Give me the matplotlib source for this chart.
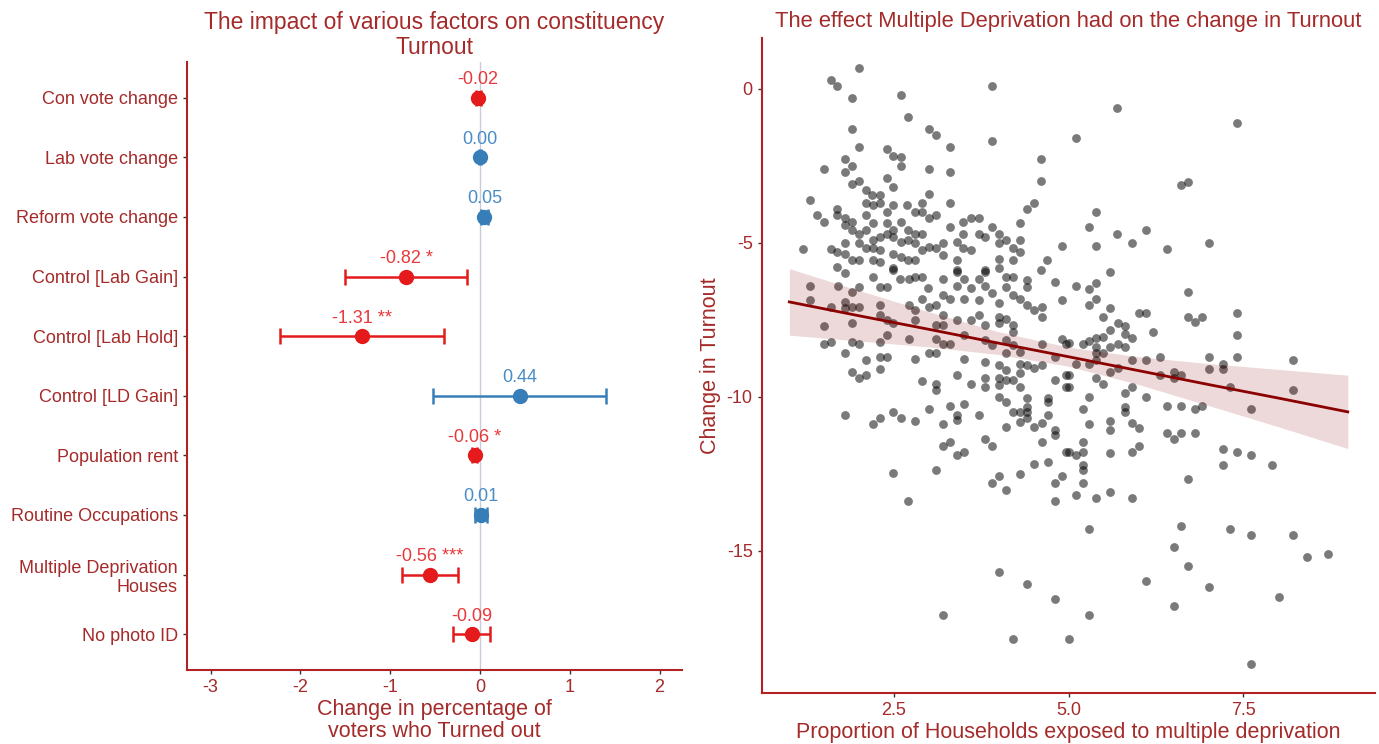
import numpy as np
import matplotlib.pyplot as plt

plt.rcParams['font.family'] = ['Liberation Sans', 'DejaVu Sans']
plt.rcParams['axes.unicode_minus'] = False

# regression coefficients for turnout change
factors = ["Con vote change", "Lab vote change", "Reform vote change",
           "Control [Lab Gain]", "Control [Lab Hold]", "Control [LD Gain]",
           "Population rent", "Routine Occupations",
           "Multiple Deprivation\nHouses", "No photo ID"]
estimates = [-0.02, 0.00, 0.05, -0.82, -1.31, 0.44, -0.06, 0.01, -0.56, -0.09]
ci_low = [-0.05, -0.01, 0.01, -1.50, -2.23, -0.52, -0.09, -0.06, -0.87, -0.30]
ci_high = [0.01, 0.01, 0.09, -0.14, -0.40, 1.40, -0.03, 0.08, -0.25, 0.11]
stars = ["", "", "", " *", " **", "", " *", "", " ***", ""]

# constituencies: deprivation share vs change in turnout
points = [
    (2.00, 0.69), (1.59, 0.30), (1.69, 0.10), (1.90, -0.31), (2.60, -0.20), (3.90, 0.10),
    (2.70, -0.91), (1.90, -1.31), (3.00, -1.31), (3.10, -1.50), (3.90, -1.70), (2.00, -1.90),
    (2.40, -1.94), (3.30, -1.90), (2.60, -2.21), (2.49, -2.19), (1.80, -2.29), (1.90, -2.50),
    (4.60, -2.29), (1.50, -2.60), (1.80, -2.70), (2.60, -2.50), (3.00, -2.60), (3.30, -2.70),
    (2.40, -2.90), (2.00, -2.99), (1.90, -3.10), (4.60, -2.99), (2.49, -3.20), (1.30, -3.60),
    (2.10, -3.30), (3.00, -3.40), (3.30, -3.70), (4.50, -3.70), (4.40, -3.91), (1.39, -4.10),
    (1.50, -4.31), (1.20, -5.20), (4.90, -5.10),
    (2.19, -3.45), (2.30, -3.45), (2.10, -3.70), (2.20, -3.78), (2.30, -3.72), (2.49, -3.78),
    (2.68, -3.78), (2.90, -3.70), (2.80, -4.00), (2.90, -4.00), (3.10, -4.10), (3.00, -4.21),
    (1.69, -3.91), (1.69, -4.10), (1.80, -4.21), (1.90, -4.32), (1.80, -4.43), (2.20, -4.37),
    (2.10, -4.10), (2.40, -4.00), (2.60, -4.32), (2.40, -4.37), (2.49, -4.59), (2.70, -4.59),
    (2.80, -4.70), (2.90, -4.70), (3.49, -4.32), (3.60, -4.21), (3.71, -4.21), (3.49, -4.70),
    (3.71, -4.70), (3.80, -4.80), (3.90, -4.48), (4.00, -4.70), (4.00, -5.02), (4.11, -4.91),
    (4.31, -4.37), (4.31, -4.91), (3.30, -4.50), (3.40, -4.97), (3.20, -5.02), (3.10, -5.18),
    (3.00, -5.13), (2.90, -5.24), (2.80, -5.02), (2.70, -4.91), (2.60, -4.97), (2.49, -4.80),
    (2.40, -4.70), (2.30, -4.80), (2.20, -4.91), (2.10, -4.59), (2.00, -4.70), (1.90, -4.59),
    (1.80, -5.02), (2.00, -5.02), (2.10, -5.18), (2.20, -5.18), (2.30, -5.24), (2.49, -5.35),
    (2.60, -5.46), (2.70, -5.56), (2.80, -5.56), (1.69, -5.78), (1.59, -5.20), (1.69, -5.29),
    (1.80, -5.35), (1.90, -5.56), (2.00, -5.56), (2.20, -5.56), (2.30, -5.62), (3.20, -5.40),
    (3.40, -5.56), (3.49, -5.18), (3.60, -5.24), (4.00, -5.51), (4.20, -5.18), (4.31, -5.29),
    (4.20, -5.56), (4.69, -5.56), (4.60, -5.89), (3.80, -5.89), (3.40, -5.89), (2.49, -5.83),
    (5.70, -0.62), (7.41, -1.10), (5.11, -1.61), (6.61, -3.11), (6.71, -3.01), (5.40, -4.00),
    (5.30, -4.50), (5.70, -4.70), (6.11, -4.60), (5.91, -5.00), (5.40, -5.10), (6.41, -5.21),
    (7.01, -5.00),
    (1.80, -5.99), (2.20, -6.10), (2.30, -6.43), (2.40, -6.43), (2.49, -5.89), (2.59, -6.16),
    (2.71, -6.16), (2.80, -6.10), (2.90, -6.10), (2.99, -6.48), (3.20, -6.16), (3.20, -6.70),
    (3.30, -6.81), (3.40, -5.96), (3.40, -6.40), (3.50, -6.16), (3.50, -6.81), (3.60, -6.48),
    (3.71, -6.16), (3.71, -6.86), (3.80, -5.96), (3.80, -6.40), (3.90, -6.64), (4.00, -5.83),
    (4.00, -6.97), (4.11, -6.10), (4.11, -6.43), (4.21, -6.10), (4.21, -6.70), (4.31, -6.81),
    (4.40, -6.21), (4.40, -6.43), (4.40, -7.02), (4.50, -7.19), (4.62, -7.08), (4.62, -7.40),
    (4.81, -6.27), (4.90, -6.86), (1.30, -6.40), (1.30, -6.86), (1.70, -6.40), (1.80, -6.91),
    (1.90, -6.59), (2.00, -6.43), (2.00, -7.08), (1.90, -7.08), (1.80, -7.13), (1.60, -7.08),
    (1.50, -7.69), (1.50, -8.30), (1.60, -8.21), (1.90, -7.59), (1.90, -8.21), (2.00, -8.30),
    (1.80, -8.59), (2.10, -8.79), (1.90, -9.19), (2.00, -9.40), (2.10, -9.30), (2.30, -7.02),
    (2.30, -7.35), (2.40, -7.51), (2.30, -8.21), (2.40, -8.00), (2.30, -8.70), (2.40, -8.70),
    (2.30, -9.10), (2.49, -7.62), (2.71, -7.02), (2.80, -7.19), (2.71, -8.11), (2.80, -7.51),
    (2.90, -6.81), (3.00, -7.08), (3.10, -7.02), (3.20, -7.35), (3.10, -7.67), (3.20, -7.67),
    (3.10, -8.11), (3.20, -8.27), (3.30, -8.29), (3.40, -7.51), (3.50, -8.00), (3.60, -7.51),
    (3.71, -7.35), (3.80, -7.67), (3.80, -8.16), (3.90, -8.32), (4.00, -7.40), (4.11, -7.46),
    (4.00, -7.62), (4.21, -7.89), (4.21, -7.67), (4.11, -8.16), (4.21, -8.32), (4.31, -8.54),
    (4.11, -8.59), (4.00, -8.97), (4.11, -9.13), (4.31, -8.92), (4.40, -8.97), (4.50, -9.08),
    (4.62, -8.97), (4.62, -8.30), (4.81, -8.70), (4.90, -8.11), (4.97, -8.27), (4.97, -9.30),
    (4.81, -9.46), (4.97, -9.67), (2.80, -8.78), (3.00, -8.59), (3.10, -8.59), (3.50, -8.78),
    (3.80, -8.88), (3.40, -9.30), (2.90, -9.49), (3.10, -9.60), (3.10, -9.78), (3.60, -9.57),
    (3.80, -9.40), (3.80, -9.67), (4.00, -9.40), (4.00, -9.62), (4.11, -9.46), (4.21, -9.46),
    (4.31, -9.24), (4.31, -9.67), (4.00, -10.00), (4.11, -10.18), (4.40, -10.05), (4.40, -10.32),
    (4.40, -10.49), (4.21, -10.49), (4.31, -10.49), (4.40, -10.70), (4.31, -10.81), (4.71, -10.05),
    (4.71, -10.16), (4.71, -10.59), (4.81, -11.08), (4.81, -11.24), (4.50, -10.99), (4.62, -10.86),
    (4.62, -11.48), (4.10, -10.99), (4.97, -11.78), (1.80, -10.59), (2.20, -10.90), (2.30, -10.70),
    (2.49, -10.49), (2.60, -10.70), (2.80, -10.79), (3.00, -10.40), (3.20, -10.90), (3.30, -10.29),
    (3.40, -10.59), (3.40, -10.76), (3.50, -10.22), (3.71, -10.59), (3.20, -11.59), (3.30, -11.46),
    (3.40, -11.89), (3.50, -11.78), (3.80, -11.37), (3.90, -11.59), (4.50, -12.19), (4.71, -12.11),
    (4.31, -12.51), (4.90, -12.56), (4.81, -12.81), (4.00, -12.56), (3.90, -12.81), (4.10, -13.03),
    (2.49, -12.49), (3.10, -12.38),
    (5.60, -5.96), (5.11, -6.40), (5.30, -6.50), (5.40, -6.29), (5.40, -6.81), (5.30, -7.02),
    (5.60, -7.11), (5.50, -7.40), (6.01, -7.29), (6.11, -7.29), (6.71, -6.59), (6.71, -7.40),
    (6.81, -7.56), (6.91, -7.40), (7.41, -7.29), (7.41, -8.00), (7.41, -8.70), (6.21, -7.89),
    (5.71, -7.59), (5.81, -7.69), (5.60, -7.83), (5.81, -7.97), (5.91, -8.08), (5.50, -8.05),
    (5.40, -8.08), (5.30, -8.19), (5.20, -8.30), (5.01, -8.24), (5.40, -8.38), (5.40, -8.59),
    (5.50, -8.59), (5.60, -8.38), (5.71, -8.30), (5.81, -8.38), (5.30, -8.92), (5.40, -8.81),
    (5.11, -8.95), (5.01, -9.30), (5.01, -9.67), (5.60, -9.19), (5.71, -9.08), (5.40, -9.40),
    (5.50, -9.57), (5.91, -8.81), (6.11, -8.81), (6.31, -8.70), (6.31, -9.30), (6.51, -9.21),
    (6.61, -9.30), (6.51, -9.40), (7.01, -8.70), (7.01, -9.10), (7.21, -8.92), (7.21, -9.10),
    (7.31, -9.67), (8.21, -8.81), (8.21, -9.78), (7.61, -10.40), (5.91, -9.67), (5.81, -9.89),
    (6.11, -10.00), (5.30, -10.00), (5.20, -10.40), (5.81, -10.32), (5.81, -10.49), (6.41, -10.29),
    (6.61, -10.29), (6.81, -10.40), (6.91, -10.29), (5.91, -10.86), (6.01, -11.00), (5.60, -10.79),
    (5.60, -11.08), (5.30, -10.90), (6.41, -11.19), (6.51, -11.37), (6.61, -11.19), (6.81, -11.19),
    (5.20, -11.48), (5.01, -11.78), (5.11, -11.89), (5.20, -11.78), (5.60, -11.84), (5.91, -11.78),
    (6.01, -11.59), (5.20, -12.22), (5.20, -12.38), (5.20, -12.81), (5.60, -13.08), (6.71, -12.67),
    (7.21, -11.68), (7.41, -11.78), (7.61, -11.89), (7.21, -12.20), (7.91, -12.20),
    (2.70, -13.39), (4.80, -13.39), (4.00, -15.68), (4.40, -16.09), (4.80, -16.58), (3.20, -17.09),
    (4.20, -17.88), (5.00, -17.88),
    (5.11, -13.19), (5.40, -13.30), (5.91, -13.30), (5.30, -14.30), (6.61, -14.19), (6.51, -14.89),
    (6.71, -15.50), (6.11, -15.98), (7.01, -16.19), (6.51, -16.78), (5.30, -17.09), (7.31, -14.30),
    (7.61, -14.49), (8.21, -14.49), (8.41, -15.19), (8.71, -15.09), (8.01, -16.49), (7.61, -18.68),
]
deprivation = np.array([p[0] for p in points])
turnout_change = np.array([p[1] for p in points])

# linear fit with 95% band
fit_x = [1.0, 2.0, 3.0, 4.0, 5.0, 6.0, 7.0, 8.0, 9.0]
fit_y = [-6.92, -7.37, -7.81, -8.26, -8.70, -9.15, -9.60, -10.04, -10.49]
band_hi = [-5.84, -6.55, -7.24, -7.89, -8.39, -8.70, -8.92, -9.11, -9.30]
band_lo = [-8.00, -8.19, -8.38, -8.63, -9.01, -9.60, -10.28, -10.97, -11.68]

TXT = '#A52A2A'
AXLINE = '#B22222'
RED = '#E41A1C'
BLUE = '#377EB8'

fig = plt.figure(figsize=(13.79, 7.44), dpi=100)
ax1 = fig.add_axes([0.1356, 0.0995, 0.3586, 0.8172])
ax2 = fig.add_axes([0.5524, 0.0681, 0.4447, 0.8808])

for ax in (ax1, ax2):
    for s in ('top', 'right'):
        ax.spines[s].set_visible(False)
    for s in ('left', 'bottom'):
        ax.spines[s].set_color(AXLINE)
        ax.spines[s].set_linewidth(1.5)
    ax.tick_params(colors='#333333', labelcolor=TXT, length=3, width=1, labelsize=13)

# coefficient plot
ax1.axvline(0, color='#C8CCD8', lw=1, zorder=0)
for i, (est, lo, hi, st) in enumerate(zip(estimates, ci_low, ci_high, stars)):
    col = RED if est < 0 else BLUE
    lab_col = '#E8383B' if est < 0 else '#4A8CC6'
    ax1.errorbar(est, i, xerr=[[est - lo], [hi - est]], fmt='o', color=col,
                 ms=10, elinewidth=1.8, capsize=6, capthick=1.8)
    ax1.annotate(f"{est:.2f}{st}", (est, i), xytext=(0, 13), textcoords='offset points',
                 ha='center', va='center', color=lab_col, fontsize=13)
ax1.set_ylim(len(factors) - 0.4, -0.6)
ax1.set_yticks(np.arange(len(factors)), factors)
ax1.set_xlim(-3.263, 2.244)
ax1.set_xticks(range(-3, 3))
ax1.set_xlabel("Change in percentage of\nvoters who Turned out", fontsize=15.5, color=TXT,
               linespacing=1.1, labelpad=2)
ax1.set_title("The impact of various factors on constituency\nTurnout", fontsize=16.5, color=TXT,
              pad=6, linespacing=1.1)

# scatter with fitted line
ax2.scatter(deprivation, turnout_change, s=40, color='black', alpha=0.52, lw=0)
ax2.fill_between(fit_x, band_lo, band_hi, color='darkred', alpha=0.15, lw=0)
ax2.plot(fit_x, fit_y, color='#8B0000', lw=2)
ax2.set_xlim(0.605, 9.39)
ax2.set_ylim(-19.63, 1.65)
ax2.set_xticks([2.5, 5.0, 7.5], ['2.5', '5.0', '7.5'])
ax2.set_yticks([0, -5, -10, -15], ['0', '-5', '-10', '-15'])
ax2.set_xlabel("Proportion of Households exposed to multiple deprivation", fontsize=15.5, color=TXT, labelpad=2)
ax2.set_ylabel("Change in Turnout", fontsize=15.5, color=TXT)
ax2.set_title("The effect Multiple Deprivation had on the change in Turnout", fontsize=15.8, color=TXT, pad=8)

fig.savefig('out.png', dpi=100)
